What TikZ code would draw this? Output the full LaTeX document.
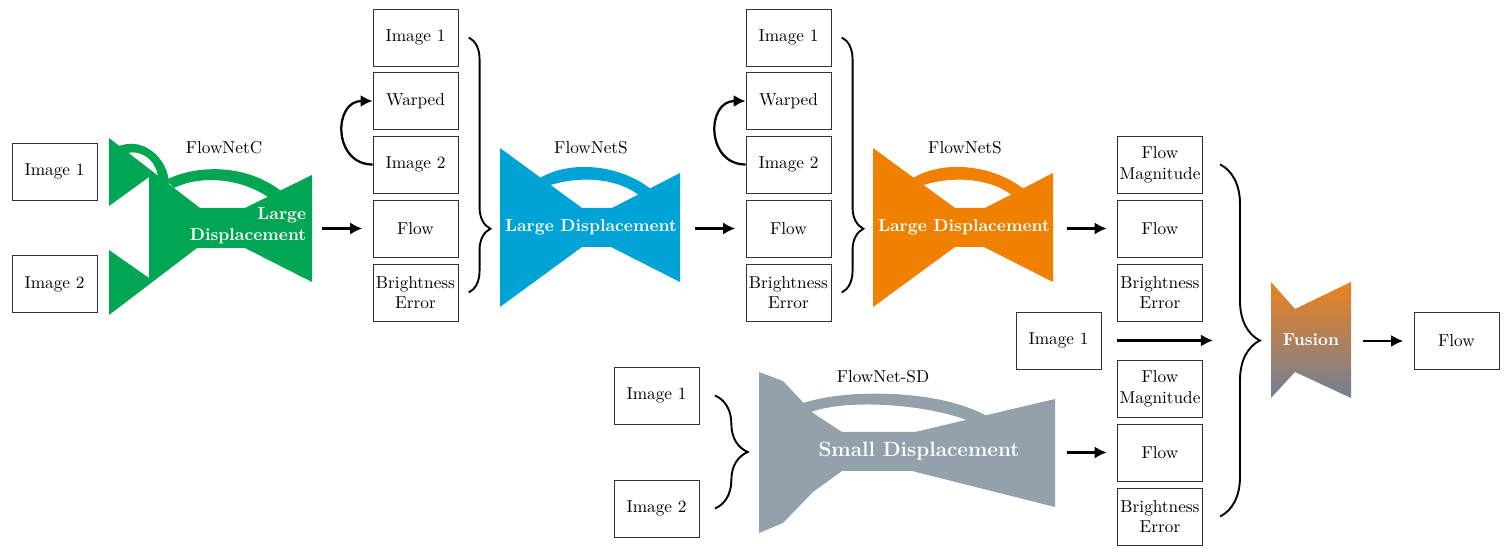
\documentclass[tikz,border=0pt]{standalone}
\usepackage{tikz}
\usepackage{amssymb}
\usepackage{amsmath}
\usetikzlibrary{arrows.meta,decorations.pathreplacing}
\definecolor{netgreen}{RGB}{0,166,81}
\definecolor{netblue}{RGB}{0,163,214}
\definecolor{netorange}{RGB}{240,128,0}
\definecolor{netgray}{RGB}{147,161,170}
\definecolor{fusetop}{RGB}{237,130,30}
\definecolor{fusebot}{RGB}{112,128,153}

\begin{document}
\begin{tikzpicture}[x=0.58pt,y=-0.58pt,
  box/.style={draw=black!80,line width=0.5pt,fill=white,minimum width=49.3pt,minimum height=33pt,inner xsep=1pt,align=center},
  arr/.style={-{Latex[length=7pt,width=7pt]},line width=1.3pt,shorten >=6pt},
  brc/.style={decorate,line width=1.1pt},
  netlabel/.style={text=white,font=\bfseries}]
\useasboundingbox (0,0) rectangle (1508,552);

\fill[netgreen] (109,138) -- (200,208) -- (245,208) -- (312,175) -- (312,282) -- (245,248) -- (197,248) -- (109,315) -- (109,250) -- (149,278) -- (149,177) -- (109,206) -- cycle;
\fill[netgreen] (117,147) .. controls (142,135) and (169,158) .. (169,185) -- (158,178) .. controls (157,160) and (140,148) .. (124,154) -- cycle;
\fill[netgreen] (166,180) .. controls (195,165) and (245,163) .. (281,191) -- (268,197) .. controls (240,178) and (200,175) .. (174,188) -- cycle;

\fill[netblue] (500,148) -- (582,208) -- (612,208) -- (680,173) -- (680,282) -- (611,247) -- (582,247) -- (500,307) -- cycle;
\fill[netblue] (540,178) .. controls (570,160) and (620,164) .. (652,190) -- (640,196) .. controls (615,176) and (575,177) .. (551,185) -- cycle;

\begin{scope}[shift={(373,0)}]
\fill[netorange] (500,148) -- (582,208) -- (612,208) -- (680,173) -- (680,282) -- (611,247) -- (582,247) -- (500,307) -- cycle;
\fill[netorange] (540,178) .. controls (570,160) and (620,164) .. (652,190) -- (640,196) .. controls (615,176) and (575,177) .. (551,185) -- cycle;
\end{scope}

\fill[netgray] (759,372) -- (783,381) -- (813,413) -- (842,432) -- (915,432) -- (1055,399) -- (1055,507) -- (912,471) -- (842,471) -- (813,492) -- (783,523) -- (759,533) -- cycle;
\fill[netgray] (803,403) .. controls (850,388) and (940,390) .. (987,416) -- (969,421) .. controls (930,405) and (850,398) .. (811,412) -- cycle;

\shade[top color=fusetop,bottom color=fusebot] (1271,282) -- (1295,309) -- (1351,282) -- (1351,398) -- (1295,372) -- (1271,398) -- cycle;

\node[netlabel,align=right] (labC) at (248,226) {Large\\Displacement};
\node (nameC) at (224,148) {FlowNetC};
\node[netlabel] (labS1) at (591,227) {Large Displacement};
\node (nameS1) at (591,148) {FlowNetS};
\node[netlabel] (labS2) at (964,227) {Large Displacement};
\node (nameS2) at (965,148) {FlowNetS};
\node[netlabel,font=\large\bfseries] (labSD) at (919,451) {Small Displacement};
\node (nameSD) at (883,377) {FlowNet-SD};
\node[netlabel] (labF) at (1311,340) {Fusion};

\node[box] (imgA) at (54.5,171.5) {Image 1};
\node[box] (imgB) at (54.5,284) {Image 2};

\node[box] (a1img1) at (415.5,37.5) {Image 1};
\node[box] (a1warp) at (415.5,101) {Warped};
\node[box] (a1img2) at (415.5,164.5) {Image 2};
\node[box] (a1flow) at (415.5,228.5) {Flow};
\node[box] (a1err) at (415.5,292.5) {Brightness\\Error};

\node[box] (a2img1) at (788.5,37.5) {Image 1};
\node[box] (a2warp) at (788.5,101) {Warped};
\node[box] (a2img2) at (788.5,164.5) {Image 2};
\node[box] (a2flow) at (788.5,228.5) {Flow};
\node[box] (a2err) at (788.5,292.5) {Brightness\\Error};

\node[box] (c1mag) at (1160,164.5) {Flow\\Magnitude};
\node[box] (c1flow) at (1160,228.5) {Flow};
\node[box] (c1err) at (1160,292.5) {Brightness\\Error};
\node[box] (imgM) at (1058.5,340.5) {Image 1};
\node[box] (c2mag) at (1160,389) {Flow\\Magnitude};
\node[box] (c2flow) at (1160,452.5) {Flow};
\node[box] (c2err) at (1160,516.5) {Brightness\\Error};

\node[box] (sdimg1) at (656.5,395.5) {Image 1};
\node[box] (sdimg2) at (656.5,508.5) {Image 2};

\node[box] (outFlow) at (1456.5,341) {Flow};

\coordinate (outC) at (322,228.5);
\coordinate (outS1) at (695,228.5);
\coordinate (outS2) at (1067,228.5);
\coordinate (outSD) at (1067,452.5);
\coordinate (inF) at (1213,340.5);
\coordinate (outF) at (1363,341);

\draw[arr] (outC) -- (a1flow);
\draw[arr] (outS1) -- (a2flow);
\draw[arr] (outS2) -- (c1flow);
\draw[arr] (outSD) -- (c2flow);
\draw[arr,shorten >=0pt,shorten <=9pt] (imgM) -- (inF);
\draw[arr] (outF) -- (outFlow);

\draw[arr,shorten >=0pt] (a1img2.west) to[out=180,in=180,looseness=1.6] (a1warp.west);
\draw[arr,shorten >=0pt] (a2img2.west) to[out=180,in=180,looseness=1.6] (a2warp.west);

\draw[brc,decoration={brace,amplitude=12.5pt,aspect=0.75}] ([xshift=6pt]a1img1.east) -- ([xshift=6pt]a1err.east);
\draw[brc,decoration={brace,amplitude=12.5pt,aspect=0.75}] ([xshift=6pt]a2img1.east) -- ([xshift=6pt]a2err.east);
\draw[brc,decoration={brace,amplitude=23pt}] ([xshift=10pt]c1mag.east) -- ([xshift=10pt]c2err.east);
\draw[brc,decoration={brace,amplitude=19pt}] ([xshift=9pt]sdimg1.east) -- ([xshift=9pt]sdimg2.east);
\end{tikzpicture}
\end{document}
